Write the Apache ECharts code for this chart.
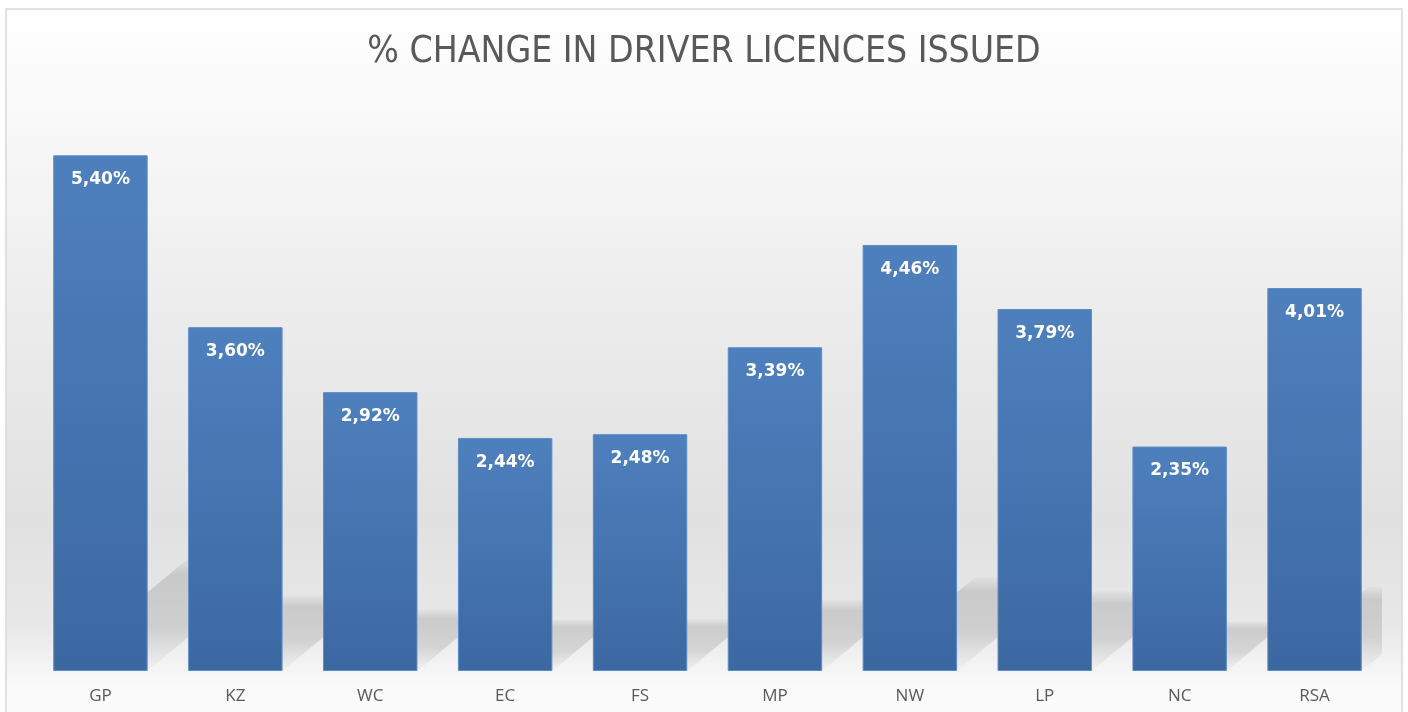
<!DOCTYPE html>
<html>
<head>
<meta charset="utf-8">
<title>% Change in driver licences issued</title>
<script src="https://cdn.jsdelivr.net/npm/echarts@6/dist/echarts.min.js"></script>
<style>
  html, body { margin: 0; padding: 0; background: #fff; }
  #chart { width: 1408px; height: 712px; }
</style>
</head>
<body>
<div id="chart"></div>
<script>
// provinces + RSA total
const regions = ['GP', 'KZ', 'WC', 'EC', 'FS', 'MP', 'NW', 'LP', 'NC', 'RSA']
const pctChange = [5.40, 3.60, 2.92, 2.44, 2.48, 3.39, 4.46, 3.79, 2.35, 4.01]

const chart = echarts.init(document.getElementById('chart'))

// soft slanted shadow behind each bar
const shadowItem = (params, api) => {
  const idx = api.value(0)
  const top = api.coord([idx, api.value(1)])
  const base = api.coord([idx, 0])
  const bw = api.size([1, 0])[0] * 0.7
  const x0 = base[0] - bw / 2
  const x1 = base[0] + bw / 2
  const h = (base[1] - top[1]) * 0.22
  const dx = h * 1.2
  return {
    type: 'polygon',
    shape: {
      points: [[x0, base[1]], [x1, base[1]], [x1 + dx, base[1] - h], [x0 + dx, base[1] - h]]
    },
    style: {
      fill: new echarts.graphic.LinearGradient(0, 0, 0, 1, [
        { offset: 0, color: 'rgba(0,0,0,0.02)' },
        { offset: 0.15, color: 'rgba(0,0,0,0.12)' },
        { offset: 0.6, color: 'rgba(0,0,0,0.11)' },
        { offset: 1, color: 'rgba(0,0,0,0.01)' }
      ])
    }
  }
}

chart.setOption({
  backgroundColor: '#fff',
  animation: false,
  title: {
    text: '% CHANGE IN DRIVER LICENCES ISSUED',
    left: 'center',
    top: 29,
    textStyle: {
      fontFamily: 'DejaVu Sans Condensed, Roboto, sans-serif',
      fontWeight: 'normal',
      fontSize: 37,
      color: '#595959'
    }
  },
  graphic: [{
    type: 'rect',
    z: -10,
    silent: true,
    shape: { x: 6, y: 9, width: 1396, height: 710 },
    style: {
      stroke: '#d9d9d9',
      lineWidth: 1.5,
      fill: new echarts.graphic.LinearGradient(0, 0, 0, 1, [
        { offset: 0, color: '#ffffff' },
        { offset: 0.15, color: '#f9f9f9' },
        { offset: 0.45, color: '#ebebeb' },
        { offset: 0.72, color: '#e1e1e1' },
        { offset: 0.87, color: '#e8e8e8' },
        { offset: 0.95, color: '#f9f9f9' },
        { offset: 1, color: '#fdfdfd' }
      ])
    }
  }],
  grid: { left: 33, right: 26, top: 98, bottom: 41 },
  xAxis: {
    type: 'category',
    data: regions,
    axisLine: { show: false },
    axisTick: { show: false },
    axisLabel: {
      margin: 17,
      fontFamily: 'Open Sans',
      fontSize: 17,
      color: '#595959'
    }
  },
  yAxis: {
    type: 'value',
    min: 0,
    max: 6,
    show: false,
    splitLine: { show: false }
  },
  series: [
    {
      type: 'custom',
      z: 1,
      clip: true,
      silent: true,
      renderItem: shadowItem,
      data: pctChange.map((v, i) => [i, v])
    },
    {
      type: 'bar',
      z: 3,
      barWidth: '70%',
      data: pctChange,
      itemStyle: {
        color: new echarts.graphic.LinearGradient(0, 0, 0, 1, [
          { offset: 0, color: '#4e80bd' },
          { offset: 1, color: '#3c68a2' }
        ]),
        borderColor: '#5a8cc9',
        borderWidth: 1
      },
      label: {
        show: true,
        position: 'insideTop',
        distance: 16,
        fontFamily: 'DejaVu Sans',
        fontWeight: 'bold',
        fontSize: 17,
        color: '#fff',
        formatter: p => p.value.toFixed(2).replace('.', ',') + '%'
      }
    }
  ]
})
</script>
</body>
</html>
